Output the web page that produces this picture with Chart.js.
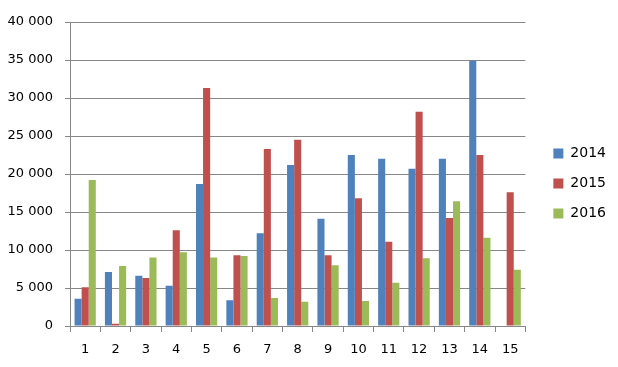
<!DOCTYPE html>
<html>
<head>
<meta charset="utf-8">
<script src="https://cdn.jsdelivr.net/npm/chart.js@4"></script>
<style>
  html, body { margin: 0; padding: 0; background: #ffffff; }
  #wrap { width: 618px; height: 367px; position: relative; }
</style>
</head>
<body>
<div id="wrap"><canvas id="chart"></canvas></div>
<script>
/* ── Data ─────────────────────────────────────────────────────────────── */

var categories = ['1', '2', '3', '4', '5', '6', '7', '8', '9', '10', '11', '12', '13', '14', '15'];
var series2014 = [3600, 7100, 6600, 5300, 18700, 3400, 12200, 21200, 14100, 22500, 22000, 20700, 22000, 34900, null];
var series2015 = [5100, 300, 6300, 12600, 31300, 9300, 23300, 24500, 9300, 16800, 11100, 28200, 14200, 22500, 17600];
var series2016 = [19200, 7900, 9000, 9700, 9000, 9200, 3700, 3200, 8000, 3300, 5700, 8900, 16400, 11600, 7400];

var seriesNames  = ['2014', '2015', '2016'];
var seriesColors = ['#4F81BD', '#C0504D', '#9BBB59'];

/* ── Helpers ──────────────────────────────────────────────────────────── */

function fmtThousands(v) {
  return String(v).replace(/\B(?=(\d{3})+(?!\d))/g, ' ');
}

var gridGray = '#878787';
var font = 'DejaVu Sans';

// empty spacer axis: reserves room without drawing anything
function spacer(position, size) {
  return {
    position: position,
    display: true,
    grid: { display: false, drawTicks: false },
    border: { display: false },
    ticks: { display: false },
    afterFit: function (scale) {
      if (scale.isHorizontal()) scale.height = size;
      else scale.width = size;
    }
  };
}

/* ── Chart ────────────────────────────────────────────────────────────── */

var allSeries = [series2014, series2015, series2016];

new Chart(document.getElementById('chart'), {
  type: 'bar',
  data: {
    labels: categories,
    datasets: allSeries.map(function (s, i) {
      return {
        label: seriesNames[i],
        data: s,
        backgroundColor: seriesColors[i],
        borderWidth: 0,
        categoryPercentage: 0.7,
        barPercentage: 1.0
      };
    })
  },
  options: {
    responsive: true,
    maintainAspectRatio: false,
    animation: false,
    layout: { padding: { left: 0, right: 2, top: 12, bottom: 12 } },
    plugins: {
      tooltip: { enabled: false },
      legend: {
        position: 'right',
        labels: {
          boxWidth: 10,
          boxHeight: 10,
          padding: 16,
          color: '#000000',
          font: { family: font, size: 14 }
        }
      }
    },
    scales: {
      x: {
        grid: {
          display: true,
          drawOnChartArea: false,
          drawTicks: true,
          tickLength: 6,
          color: gridGray,
          lineWidth: 1
        },
        border: { color: gridGray, width: 1 },
        ticks: {
          color: '#000000',
          padding: 10,
          maxRotation: 0,
          font: { family: font, size: 13 }
        },
        afterFit: function (scale) { scale.height = 29; }
      },
      xTop: spacer('top', 10),
      y: {
        min: 0,
        max: 40000,
        grid: {
          color: gridGray,
          lineWidth: 1,
          tickLength: 5
        },
        border: { color: gridGray, width: 1 },
        ticks: {
          stepSize: 5000,
          color: '#000000',
          padding: 12,
          font: { family: font, size: 13 },
          callback: function (v) { return fmtThousands(v); }
        },
        afterFit: function (scale) { scale.width = 70; }
      },
      yRight: spacer('right', 12)
    }
  }
});
</script>
</body>
</html>
